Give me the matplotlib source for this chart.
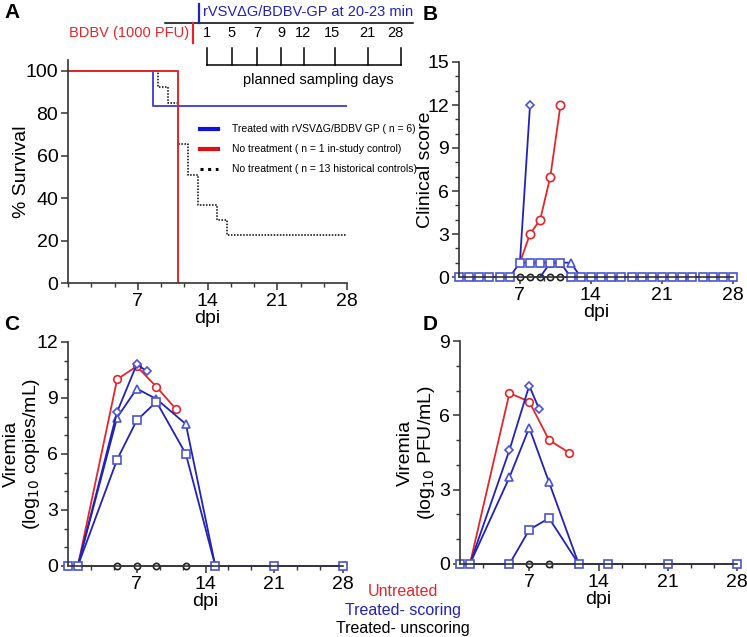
import numpy as np
import matplotlib
matplotlib.use("Agg")
import matplotlib.pyplot as plt
from matplotlib.ticker import MultipleLocator

plt.rcParams['font.family'] = ['Liberation Sans', 'DejaVu Sans']

W, H = 747, 637
RED = '#e3262b'
BLUE = '#2222b4'
SQ = '#4a55d0'
BLK = '#222222'

# A - survival (% vs dpi)
treated_days = [0, 8.5, 28]
treated_surv = [100, 83.3, 83.3]
untreated_days = [0, 11, 11]
untreated_surv = [100, 100, 0]
hist_days = [0, 9, 10, 11, 12, 13, 15, 16, 28]
hist_surv = [100, 92.3, 84.6, 65.4, 50.9, 36.8, 29.8, 22.4, 22.4]
legend_labels = ["Treated with rVSV\u0394G/BDBV GP ( n = 6)",
                 "No treatment ( n = 1 in-study control)",
                 "No treatment ( n = 13 historical controls)"]

# timeline
sampling_days = ["1", "5", "7", "9", "12", "15", "21", "28"]

# B - clinical score
score_days = list(range(1, 29))
score_sq = [0] * 6 + [1] * 5 + [0] * 17
score_tri_days = [9, 10, 11, 12, 13]
score_tri = [0, 1, 1, 1, 0]
score_dia_days = [7, 8]
score_dia = [1, 12]
score_red_days = [7, 8, 9, 10, 11]
score_red = [1, 3, 4, 7, 12]
score_blk_days = [6, 7, 8, 9, 10, 11, 12]
score_blk = [0] * 7

# C - viremia, log10 copies/mL
vir_days = [0, 1, 5, 7, 9, 12, 15, 21, 28]
c_sq = [0, 0, 5.7, 7.8, 8.8, 6.0, 0, 0, 0]
c_tri_days = [1, 5, 7, 9, 12, 15]
c_tri = [0, 7.95, 9.5, 8.95, 7.6, 0]
c_dia_days = [1, 5, 7, 8]
c_dia = [0, 8.25, 10.8, 10.45]
c_red_days = [1, 5, 7, 9, 11]
c_red = [0, 10.0, 10.7, 9.6, 8.4]
c_blk_days = [1, 5, 7, 9, 12, 15]
c_blk = [0, 0, 0, 0, 0, 0]

# D - viremia, log10 PFU/mL
d_sq = [0, 0, 0, 1.38, 1.85, 0, 0, 0, 0]
d_tri_days = [1, 5, 7, 9, 12]
d_tri = [0, 3.5, 5.5, 3.3, 0]
d_dia_days = [1, 5, 7, 8]
d_dia = [0, 4.6, 7.2, 6.25]
d_red_days = [1, 5, 7, 9, 11]
d_red = [0, 6.9, 6.55, 5.0, 4.5]
d_blk_days = [5, 7, 9, 12]
d_blk = [0, 0, 0, 0]


def box(l, t, r, b):
    return [l / W, 1 - b / H, (r - l) / W, (b - t) / H]


def style_ax(ax, ymajor, yminor, ylabel, xcenter):
    for s in ['top', 'right']:
        ax.spines[s].set_visible(False)
    for s in ['left', 'bottom']:
        ax.spines[s].set_linewidth(1.2)
        ax.spines[s].set_color('#333333')
    ax.xaxis.set_major_locator(MultipleLocator(7))
    ax.xaxis.set_minor_locator(MultipleLocator(7 / 3))
    ax.yaxis.set_major_locator(MultipleLocator(ymajor))
    if yminor:
        ax.yaxis.set_minor_locator(MultipleLocator(yminor))
    ax.tick_params(which='major', length=5, width=1.1, labelsize=14, color='#333333', pad=2)
    ax.tick_params(which='minor', length=3, width=1.0, color='#333333')
    ax.set_xticks([7, 14, 21, 28])
    ax.set_xlabel("dpi", fontsize=14, labelpad=0)
    ax.set_ylabel(ylabel, fontsize=14, linespacing=1.1)
    ax.yaxis.label.set_verticalalignment('center')
    ax.yaxis.set_label_coords(xcenter, 0.5)


def series(ax, x, y, color, marker, ms, mec, skip=(), lw=1.3):
    idx = [i for i in range(len(x)) if i not in skip]
    ax.plot(x, y, color=color, lw=lw, marker=marker, ms=ms, mfc='white',
            mec=mec, mew=1.2, markevery=idx, clip_on=False)


fig = plt.figure(figsize=(W / 100, H / 100), dpi=100)

# ---- A
axA = fig.add_axes(box(68, 60, 347, 283))
axA.plot(hist_days, hist_surv, color='black', lw=1.1, ls=(0, (1, 1)), drawstyle='steps-post')
axA.plot(treated_days, treated_surv, color='#4848d8', lw=1.4, drawstyle='steps-post')
axA.plot(untreated_days, untreated_surv, color=RED, lw=1.4)
axA.set_xlim(0, 28)
axA.set_ylim(0, 105)
style_ax(axA, 20, None, "% Survival", -0.165)

# ---- B
axB = fig.add_axes(box(459, 62, 733, 277))
series(axB, score_blk_days, score_blk, BLK, 'o', 4.5, BLK, skip=(0, 6), lw=1.2)
series(axB, score_tri_days, score_tri, BLUE, '^', 5.5, SQ, skip=(0, 4))
series(axB, score_dia_days, score_dia, BLUE, 'D', 4, SQ, skip=(0,))
series(axB, score_red_days, score_red, RED, 'o', 6, RED, skip=(0,))
series(axB, score_days, score_sq, BLUE, 's', 5.5, SQ)
axB.set_xlim(1, 28)
axB.set_ylim(0, 15)
style_ax(axB, 3, 1, "Clinical score", -0.124)

# ---- C
axC = fig.add_axes(box(68, 342, 343, 566))
series(axC, c_blk_days, c_blk, '#444444', 'o', 4.5, BLK, skip=(0, 5), lw=1.2)
series(axC, c_red_days, c_red, RED, 'o', 5.5, RED, skip=(0,))
series(axC, c_tri_days, c_tri, BLUE, '^', 5.5, SQ, skip=(0, 5))
series(axC, c_dia_days, c_dia, BLUE, 'D', 4, SQ, skip=(0,))
series(axC, vir_days, c_sq, BLUE, 's', 5.5, SQ)
axC.set_xlim(0, 28)
axC.set_ylim(0, 12)
style_ax(axC, 3, 1, "Viremia\n(log$_{10}$ copies/mL)", -0.165)

# ---- D
axD = fig.add_axes(box(460, 341, 737, 564))
series(axD, d_blk_days, d_blk, '#444444', 'o', 4.5, BLK, skip=(0, 3), lw=1.2)
series(axD, d_red_days, d_red, RED, 'o', 5.5, RED, skip=(0,))
series(axD, d_tri_days, d_tri, BLUE, '^', 5.5, SQ, skip=(0, 4))
series(axD, d_dia_days, d_dia, BLUE, 'D', 4, SQ, skip=(0,))
series(axD, vir_days, d_sq, BLUE, 's', 5.5, SQ)
axD.set_xlim(0, 28)
axD.set_ylim(0, 9)
style_ax(axD, 3, 1, "Viremia\n(log$_{10}$ PFU/mL)", -0.155)

# ---- overlay in pixel coordinates: timeline, legends, panel letters
ov = fig.add_axes([0, 0, 1, 1], zorder=10)
ov.set_xlim(0, W)
ov.set_ylim(H, 0)
ov.axis('off')
ov.patch.set_alpha(0)

tick_px = [207, 232, 257, 281, 304, 335, 368, 401]
label_px = [207, 232, 257, 281, 303, 332, 367, 395]
ov.plot([165, 413], [23, 23], color='black', lw=1.1)
ov.plot([199, 199], [4, 23], color=BLUE, lw=1.6)
ov.text(203, 12, "rVSV\u0394G/BDBV-GP at 20-23 min", color=BLUE, fontsize=10.5, va='center')
ov.plot([193, 193], [23, 43], color=RED, lw=1.6)
ov.text(189, 33, "BDBV (1000 PFU)", color=RED, fontsize=10.5, va='center', ha='right')
for px, lab in zip(label_px, sampling_days):
    ov.text(px, 33, lab, fontsize=10.5, ha='center', va='center')
for px in tick_px:
    ov.plot([px, px], [48, 65], color='black', lw=1.1)
ov.plot([tick_px[0], tick_px[-1]], [65, 65], color='black', lw=1.1)
ov.text(318, 80, "planned sampling days", fontsize=10.5, ha='center', va='center')

leg_styles = [dict(color='#1010e0', lw=3), dict(color='#e01010', lw=3),
              dict(color='black', lw=2.2, ls=(0, (1, 1.5)))]
for i, (lab, st) in enumerate(zip(legend_labels, leg_styles)):
    y = 129 + 20 * i
    ov.plot([200, 218], [y, y], **st)
    ov.text(232, y, lab, fontsize=7.5, va='center')

ov.text(403, 591, "Untreated", color=RED, fontsize=11.5, ha='center', va='center')
ov.text(403, 610, "Treated- scoring", color=BLUE, fontsize=11.5, ha='center', va='center')
ov.text(403, 629, "Treated- unscoring", color='black', fontsize=11.5, ha='center', va='center')

for lab, (px, py) in zip("ABCD", [(12, 13), (430, 14), (12, 325), (430, 325)]):
    ov.text(px, py, lab, fontsize=15, fontweight='bold', ha='center', va='center')

fig.savefig("out.png", dpi=100)
